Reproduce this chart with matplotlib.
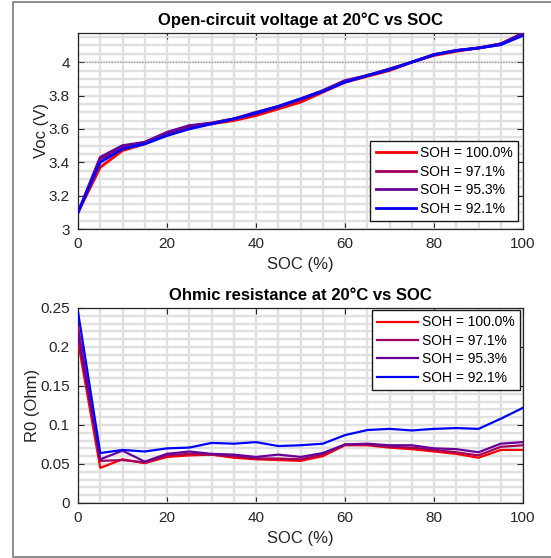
import matplotlib
matplotlib.use('Agg')
import matplotlib.pyplot as plt
from matplotlib.ticker import MultipleLocator, FuncFormatter
from matplotlib.lines import Line2D

plt.rcParams['font.family'] = ['Liberation Sans', 'DejaVu Sans']

# Data
soc = [0, 5, 10, 15, 20, 25, 30, 35, 40, 45, 50, 55, 60, 65, 70, 75, 80, 85, 90, 95, 100]
soh_labels = ['SOH = 100.0%', 'SOH = 97.1%', 'SOH = 95.3%', 'SOH = 92.1%']
colors = ['#ff0000', '#a1005e', '#670098', '#0000ff']

voc_100 = [3.10, 3.37, 3.47, 3.51, 3.57, 3.61, 3.63, 3.65, 3.68, 3.72, 3.76, 3.82, 3.88, 3.915, 3.95, 4.00, 4.04, 4.065, 4.085, 4.105, 4.17]
voc_971 = [3.10, 3.42, 3.49, 3.52, 3.575, 3.615, 3.635, 3.66, 3.69, 3.73, 3.775, 3.825, 3.885, 3.92, 3.955, 4.00, 4.045, 4.07, 4.085, 4.11, 4.17]
voc_953 = [3.10, 3.43, 3.50, 3.52, 3.58, 3.62, 3.635, 3.66, 3.70, 3.735, 3.78, 3.83, 3.89, 3.92, 3.96, 4.00, 4.045, 4.07, 4.085, 4.11, 4.175]
voc_921 = [3.10, 3.40, 3.48, 3.51, 3.56, 3.60, 3.63, 3.66, 3.695, 3.735, 3.78, 3.825, 3.88, 3.92, 3.955, 4.00, 4.045, 4.07, 4.085, 4.105, 4.16]

r0_100 = [0.207, 0.045, 0.056, 0.051, 0.059, 0.061, 0.062, 0.058, 0.056, 0.055, 0.054, 0.060, 0.074, 0.074, 0.071, 0.069, 0.066, 0.063, 0.058, 0.068, 0.068]
r0_971 = [0.226, 0.054, 0.055, 0.052, 0.061, 0.063, 0.062, 0.060, 0.057, 0.057, 0.056, 0.062, 0.075, 0.075, 0.072, 0.071, 0.068, 0.065, 0.061, 0.072, 0.074]
r0_953 = [0.215, 0.056, 0.067, 0.053, 0.063, 0.066, 0.063, 0.062, 0.059, 0.062, 0.059, 0.064, 0.075, 0.076, 0.074, 0.074, 0.070, 0.069, 0.065, 0.076, 0.078]
r0_921 = [0.245, 0.064, 0.068, 0.066, 0.070, 0.071, 0.077, 0.076, 0.078, 0.073, 0.074, 0.076, 0.087, 0.0935, 0.095, 0.093, 0.095, 0.096, 0.095, 0.108, 0.122]

voc = [voc_100, voc_971, voc_953, voc_921]
r0 = [r0_100, r0_971, r0_953, r0_921]

fig = plt.figure(figsize=(5.51, 5.58), dpi=100)
# outer frame: left, top and bottom edges only
x0, y0, y1 = 12.5 / 551, 1.5 / 558, 556 / 558
fig.lines.append(Line2D([1.0, x0, x0, 1.0], [y1, y1, y0, y0], transform=fig.transFigure,
                        color='#7a7a7a', linewidth=1.2))

ax1 = fig.add_axes([0.1416, 0.5896, 0.8076, 0.3513])
ax2 = fig.add_axes([0.1416, 0.0986, 0.8076, 0.3495])

dark = '#262626'


def style(ax, ymajor, yminor):
    ax.set_xlim(0, 100)
    ax.xaxis.set_major_locator(MultipleLocator(20))
    ax.xaxis.set_minor_locator(MultipleLocator(5))
    ax.yaxis.set_major_locator(MultipleLocator(ymajor))
    ax.yaxis.set_minor_locator(MultipleLocator(yminor))
    ax.grid(True, which='both', color='#e0e0e0', linewidth=1.7, zorder=0)
    ax.set_axisbelow(True)
    ax.tick_params(which='major', direction='in', length=4, width=0.8, colors=dark,
                   labelsize=11, top=True, right=True, pad=6)
    ax.tick_params(which='minor', length=0)
    for s in ax.spines.values():
        s.set_color(dark)
        s.set_linewidth(0.9)
    ax.yaxis.set_major_formatter(FuncFormatter(lambda v, p: '%g' % round(v, 4)))
    ax.set_xlabel('SOC (%)', fontsize=12, color=dark, labelpad=4)


def add_legend(ax, loc, anchor):
    leg = ax.legend(loc=loc, bbox_to_anchor=anchor, fontsize=10,
                    handlelength=2.9, handletextpad=0.3, borderpad=0.4, labelspacing=0.32,
                    fancybox=False, framealpha=1, edgecolor='#1a1a1a', borderaxespad=0)
    leg.get_frame().set_linewidth(1.0)
    return leg


# Top: open-circuit voltage
for vals, c, lab in zip(voc, colors, soh_labels):
    ax1.plot(soc, vals, color=c, linewidth=2.0, label=lab, zorder=3)
ax1.axhline(4.0, color='#8a8a8a', linestyle=(0, (1, 1.5)), linewidth=0.8, zorder=1)
style(ax1, 0.2, 0.05)
ax1.set_ylim(3, 4.175)
ax1.set_ylabel('Voc (V)', fontsize=12, color=dark, labelpad=0)
ax1.set_title('Open-circuit voltage at 20°C vs SOC', fontsize=12, fontweight='bold', pad=6)
add_legend(ax1, 'lower right', (0.9895, 0.04))

# Bottom: ohmic resistance
for vals, c, lab in zip(r0, colors, soh_labels):
    ax2.plot(soc, vals, color=c, linewidth=1.6, label=lab, zorder=3)
style(ax2, 0.05, 0.01)
ax2.set_ylim(0, 0.25)
ax2.set_ylabel('R0 (Ohm)', fontsize=12, color=dark, labelpad=0)
ax2.set_title('Ohmic resistance at 20°C vs SOC', fontsize=12, fontweight='bold', pad=6)
add_legend(ax2, 'upper right', (0.9935, 0.99))

fig.savefig('out.png', dpi=100)
